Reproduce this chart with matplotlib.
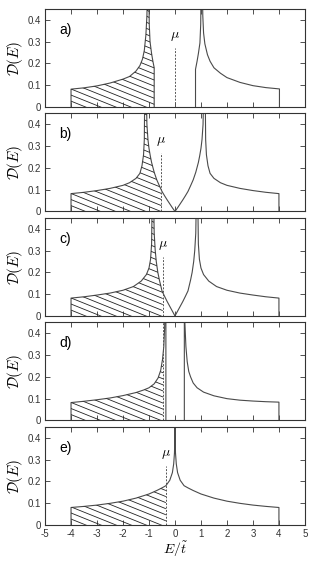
import numpy as np
import matplotlib
matplotlib.use("Agg")
import matplotlib.pyplot as plt
from matplotlib.collections import LineCollection
from matplotlib.patches import Polygon

plt.rcParams['mathtext.fontset'] = 'cm'
plt.rcParams['font.family'] = ['Liberation Sans', 'DejaVu Sans']

panel_labels = ['a)', 'b)', 'c)', 'd)', 'e)']
mu_values = [0.0, -0.52, -0.47, -0.45, -0.35]
mu_text = [True, True, True, False, True]

# panel a: gapped, two bands
a_left_E = [-4, -4, -3.5, -3, -2.5, -2, -1.75, -1.5, -1.35, -1.25, -1.18, -1.12,
            -1.08, -1.05, -1.01, -0.99, -0.96, -0.9, -0.85, -0.8, -0.8]
a_left_D = [0, 0.082, 0.088, 0.097, 0.11, 0.128, 0.14, 0.165, 0.19, 0.22, 0.26, 0.33,
            0.42, 0.6, 0.6, 0.38, 0.3, 0.245, 0.21, 0.18, 0]
a_right_E = [0.79, 0.79, 0.85, 0.9, 0.96, 0.99, 1.01, 1.05, 1.07, 1.1, 1.15, 1.25,
             1.35, 1.5, 1.75, 2, 2.5, 3, 3.5, 4.02, 4.02]
a_right_D = [0, 0.173, 0.21, 0.245, 0.294, 0.38, 0.6, 0.6, 0.42, 0.34, 0.29, 0.24,
             0.21, 0.18, 0.155, 0.135, 0.113, 0.098, 0.089, 0.083, 0]

# panel b: V-shaped gap at zero
b_left_E = [-4, -4, -3.5, -3, -2.5, -2, -1.75, -1.5, -1.35, -1.27, -1.21, -1.18,
            -1.16, -1.11, -1.08, -1.04, -1.0, -0.95, -0.9, -0.8, -0.7, -0.6, -0.5,
            -0.4, -0.3, -0.2, -0.1, 0]
b_left_D = [0, 0.082, 0.088, 0.096, 0.106, 0.12, 0.132, 0.152, 0.175, 0.21, 0.26, 0.33,
            0.6, 0.6, 0.4, 0.33, 0.29, 0.255, 0.225, 0.18, 0.145, 0.118, 0.092,
            0.072, 0.053, 0.035, 0.017, 0]
b_right_E = [0, 0.1, 0.2, 0.3, 0.4, 0.5, 0.6, 0.7, 0.8, 0.9, 0.95, 1.0, 1.04, 1.08,
             1.11, 1.16, 1.18, 1.21, 1.27, 1.35, 1.5, 1.75, 2, 2.5, 3, 3.5, 4, 4]
b_right_D = [0, 0.017, 0.035, 0.053, 0.072, 0.092, 0.118, 0.145, 0.18, 0.225, 0.255,
             0.29, 0.33, 0.4, 0.6, 0.6, 0.33, 0.26, 0.21, 0.175, 0.152, 0.132, 0.12,
             0.106, 0.096, 0.088, 0.082, 0]

# panel c: narrower V-shaped gap
c_left_E = [-4, -4, -3.5, -3, -2.5, -2, -1.6, -1.3, -1.1, -1.0, -0.94, -0.9, -0.87,
            -0.83, -0.8, -0.76, -0.72, -0.66, -0.6, -0.5, -0.4, -0.3, -0.2, -0.1, 0]
c_left_D = [0, 0.082, 0.088, 0.096, 0.105, 0.118, 0.135, 0.16, 0.19, 0.22, 0.26, 0.33,
            0.6, 0.6, 0.38, 0.3, 0.25, 0.2, 0.165, 0.115, 0.09, 0.066, 0.044, 0.022, 0]
c_right_E = [0, 0.1, 0.2, 0.3, 0.4, 0.5, 0.6, 0.66, 0.72, 0.76, 0.8, 0.83, 0.87, 0.9,
             0.94, 1.0, 1.1, 1.3, 1.6, 2, 2.5, 3, 3.5, 4, 4]
c_right_D = [0, 0.022, 0.044, 0.066, 0.09, 0.115, 0.165, 0.2, 0.25, 0.3, 0.38, 0.6,
             0.6, 0.33, 0.26, 0.22, 0.19, 0.16, 0.135, 0.118, 0.105, 0.096, 0.088,
             0.082, 0]

# panel d: small hard gap
d_left_E = [-4, -4, -3.5, -3, -2.5, -2, -1.5, -1.2, -1.0, -0.8, -0.65, -0.55, -0.48,
            -0.43, -0.4, -0.37, -0.35, -0.35]
d_left_D = [0, 0.082, 0.088, 0.095, 0.103, 0.114, 0.128, 0.14, 0.15, 0.168, 0.195,
            0.23, 0.28, 0.34, 0.42, 0.6, 0.6, 0]
d_right_E = [0.36, 0.36, 0.38, 0.42, 0.47, 0.53, 0.6, 0.7, 0.85, 1.1, 1.5, 2, 2.5, 3,
             3.5, 4, 4]
d_right_D = [0, 0.6, 0.45, 0.34, 0.27, 0.225, 0.2, 0.172, 0.15, 0.13, 0.113, 0.1,
             0.093, 0.089, 0.086, 0.084, 0]

# panel e: no gap
e_E = [-4, -4, -3.5, -3, -2.5, -2, -1.5, -1, -0.7, -0.5, -0.35, -0.2, -0.1, -0.05,
       -0.02, -0.005, 0, 0.005, 0.02, 0.05, 0.1, 0.2, 0.35, 0.5, 0.7, 1, 1.5, 2, 2.5,
       3, 3.5, 4, 4]
e_D = [0, 0.08, 0.085, 0.091, 0.099, 0.109, 0.123, 0.142, 0.158, 0.17, 0.18, 0.205,
       0.24, 0.28, 0.33, 0.4, 0.6, 0.4, 0.33, 0.28, 0.24, 0.205, 0.18, 0.17, 0.158,
       0.142, 0.123, 0.109, 0.099, 0.091, 0.085, 0.08, 0]

panels = [
    [(a_left_E, a_left_D), (a_right_E, a_right_D)],
    [(b_left_E, b_left_D), (b_right_E, b_right_D)],
    [(c_left_E, c_left_D), (c_right_E, c_right_D)],
    [(d_left_E, d_left_D), (d_right_E, d_right_D)],
    [(e_E, e_D)],
]

line_col = '#4a4a4a'
fig, axes = plt.subplots(5, 1, figsize=(3.15, 5.62), dpi=100, sharex=True)
fig.subplots_adjust(left=0.143, right=0.968, top=0.984, bottom=0.066, hspace=0.066)


def hatch_region(ax, E, D, mu):
    # polygon of occupied states below mu, filled with shallow hatch lines
    E = np.asarray(E, float)
    D = np.asarray(D, float)
    keep = E <= mu
    xs = list(E[keep])
    ys = list(D[keep])
    if E.max() > mu:
        xs.append(mu)
        ys.append(np.interp(mu, E, D))
        xs.append(mu)
        ys.append(0)
    poly = Polygon(np.column_stack([xs, ys]), closed=True, facecolor='none',
                   edgecolor='none', transform=ax.transData)
    ax.add_patch(poly)
    slope = -0.048
    segs = []
    for x0 in np.arange(-4.6, 12, 0.58):
        segs.append([(-5.5, slope * (-5.5 - x0)), (x0 + 1, slope * 1)])
    lc = LineCollection(segs, colors='#222222', linewidths=0.6)
    ax.add_collection(lc)
    lc.set_clip_path(poly)


for i, ax in enumerate(axes):
    mu = mu_values[i]
    for E, D in panels[i]:
        ax.plot(E, D, color=line_col, lw=0.8)
    hatch_region(ax, *panels[i][0], mu)
    if mu_text[i]:
        ax.plot([mu, mu], [0, 0.27], color='#555555', lw=0.7, ls=(0, (2, 1.5)))
        ax.text(mu, 0.325, r'$\mu$', ha='center', va='center', fontsize=10)
    else:
        ax.plot([mu, mu], [0, 0.45], color='#555555', lw=0.7, ls=(0, (2, 1.5)))
    ax.text(-4.45, 0.355, panel_labels[i], ha='left', va='center', fontsize=10)
    ax.set_xlim(-5, 5)
    ax.set_ylim(0, 0.45)
    ax.set_xticks(np.arange(-5, 6, 1))
    ax.set_yticks([0, 0.1, 0.2, 0.3, 0.4])
    ax.set_yticklabels(['0', '0.1', '0.2', '0.3', '0.4'])
    ax.tick_params(direction='in', top=True, right=True, length=3.5, width=0.6,
                   labelsize=7, pad=3, colors='#333333')
    for s in ax.spines.values():
        s.set_color('#333333')
        s.set_linewidth(0.8)
    ax.set_ylabel(r'$\mathcal{D}(E)$', fontsize=11, labelpad=2)

axes[-1].set_xticklabels([str(v) for v in range(-5, 6)])
fig.text(0.556, 0.006, r'$E/\tilde{t}$', ha='center', va='bottom', fontsize=10)

fig.savefig('out.png', dpi=100)
